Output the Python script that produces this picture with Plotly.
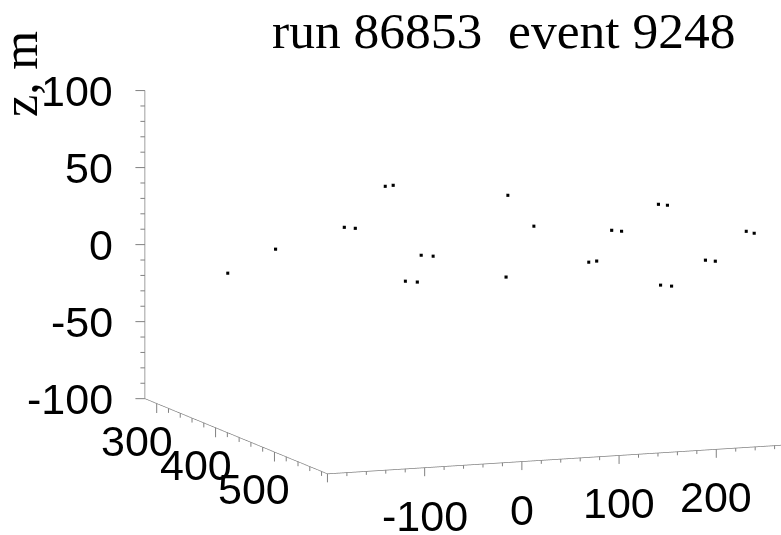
import plotly.graph_objects as go

# Hit positions (metres)
hit_x = [-145.1, -126.2, -19.1, -7.8, 35.1, 43.3, -101.7, -89.4, -18.8, -6.5,
         14.0, 137.0, 115.3, 123.3, 131.5, 171.1, 181.3, 255.6, 264.8, 148.7,
         160.0, 231.2, 241.4, 261.1, 269.3]
hit_y = [330, 380, 320, 320, 300, 300, 560, 560, 450, 450,
         540, 340, 420, 500, 500, 460, 460, 400, 400, 580,
         580, 520, 520, 540, 540]
hit_z = [-12.8, 9.9, 10.4, 9.3, 31.7, 32.0, 16.5, 15.4, 12.7, 11.6,
         11.4, 28.1, 21.5, 10.4, 10.8, 22.9, 21.9, 27.0, 26.0, 7.1,
         6.0, 10.6, 9.5, 31.3, 29.7]

x_range = [-200, 280]
y_range = [590, 280]          # drawn reversed
z_range = [-100, 100]

x_ticks = list(range(-200, 281, 20))
y_ticks = list(range(300, 581, 20))
z_ticks = list(range(-100, 101, 10))

x_labels = [-100, 0, 100, 200]
y_labels = [300, 400, 500]
z_labels = [-100, -50, 0, 50, 100]

run_number = 86853
event_number = 9248

LABEL_FONT = dict(family="Liberation Sans, Arial, sans-serif", size=43, color="black")
TITLE_FONT = dict(family="Liberation Serif, Times New Roman, serif", size=51.5, color="black")
AXIS_GREY = "#808080"

fig = go.Figure(
    go.Scatter3d(
        x=hit_x, y=hit_y, z=hit_z,
        mode="markers",
        marker=dict(size=1.6, color="black", symbol="square", line=dict(width=0)),
        hoverinfo="skip",
    )
)

axis_common = dict(
    showbackground=False, showgrid=False, zeroline=False, showspikes=False,
    showline=True, linecolor=AXIS_GREY, linewidth=1.5,
    ticks="", showticklabels=False,
    title=dict(text=""),
)

x_lo, y_far, y_near, z_lo = x_range[0], y_range[1], y_range[0], z_range[0]


def tick_mark(x, y, z, dx, dy):
    # short line from the axis point, offset in screen pixels
    return dict(x=x, y=y, z=z, text="", showarrow=True, arrowhead=0,
                arrowwidth=1, arrowcolor=AXIS_GREY, ax=dx, ay=dy,
                standoff=0, startstandoff=0)


def tick_label(x, y, z, text, xanchor, dx, dy):
    return dict(x=x, y=y, z=z, text=text, showarrow=False,
                xanchor=xanchor, yanchor="middle", xshift=dx, yshift=dy,
                font=LABEL_FONT)


scene_notes = []
for v in x_ticks:
    scene_notes.append(tick_mark(v, y_near, z_lo, 0, 10 if v % 100 == 0 else 5))
for v in y_ticks:
    scene_notes.append(tick_mark(x_lo, v, z_lo, 0, 11 if v % 100 == 0 else 6))
for v in z_ticks:
    scene_notes.append(tick_mark(x_lo, y_far, v, -11 if v % 50 == 0 else -6, 0))

for v in x_labels:
    scene_notes.append(tick_label(v, y_near, z_lo, str(v), "center", 0, -48))
for v in y_labels:
    scene_notes.append(tick_label(x_lo, v, z_lo, str(v), "center", -20, -37))
for v in z_labels:
    scene_notes.append(tick_label(x_lo, y_far, v, str(v), "right", -30, 0))

# camera: orthographic, viewed slightly from above
cam_center = dict(x=-0.275, y=0.1075, z=0.0)
cam_dir = dict(x=-0.462, y=-1.181, z=0.207)

fig.update_layout(
    width=781, height=535,
    margin=dict(l=0, r=0, t=0, b=0),
    paper_bgcolor="white",
    showlegend=False,
    scene=dict(
        domain=dict(x=[0, 1], y=[0, 1]),
        xaxis=dict(range=x_range, **axis_common),
        yaxis=dict(range=y_range, **axis_common),
        zaxis=dict(range=z_range, **axis_common),
        aspectmode="manual",
        aspectratio=dict(x=1.873, y=1.873, z=1.167),
        camera=dict(
            center=cam_center,
            eye=dict(x=cam_center["x"] + cam_dir["x"],
                     y=cam_center["y"] + cam_dir["y"],
                     z=cam_center["z"] + cam_dir["z"]),
            up=dict(x=0, y=0, z=1),
            projection=dict(type="orthographic"),
        ),
        bgcolor="white",
        annotations=scene_notes,
    ),
    annotations=[
        dict(text=f"run {run_number}\u00a0 event {event_number}",
             xref="paper", yref="paper", x=503 / 781, y=1 - 30 / 535,
             xanchor="center", yanchor="middle", showarrow=False, font=TITLE_FONT),
        dict(text="z, m", textangle=-90,
             xref="paper", yref="paper", x=20 / 781, y=1 - 74 / 535,
             xanchor="center", yanchor="middle", showarrow=False,
             font=dict(TITLE_FONT, size=50)),
    ],
)

fig.write_html("out.html", config=dict(displayModeBar=False))
